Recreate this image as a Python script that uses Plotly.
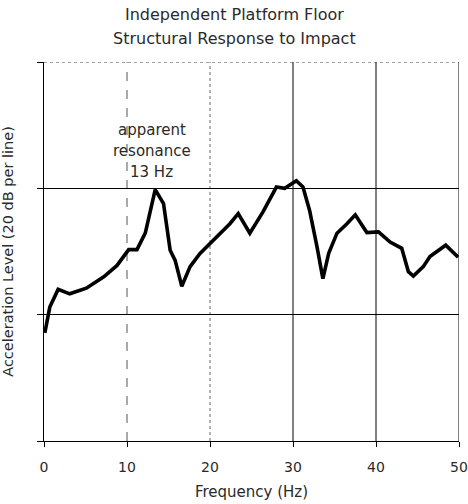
import plotly.graph_objects as go

freq = [0.1, 0.7, 1.7, 3.1, 5.1, 7.2, 8.8, 10.2, 11.2, 12.2, 13.4, 14.4, 15.2, 15.8, 16.6,
        17.6, 18.8, 20.2, 21.6, 22.4, 23.4, 24.8, 26.4, 28.0, 29.0, 30.4, 31.2, 32.0, 32.9,
        33.6, 34.3, 35.3, 36.5, 37.5, 38.9, 40.3, 41.7, 43.1, 43.9, 44.5, 45.7, 46.5, 48.4, 49.9]
level = [17.1, 21.2, 24.0, 23.3, 24.2, 26.0, 27.8, 30.3, 30.3, 32.9, 39.8, 37.6, 30.2, 28.6, 24.5,
         27.6, 29.7, 31.5, 33.4, 34.4, 36.0, 32.9, 36.3, 40.2, 40.0, 41.2, 40.2, 36.5, 30.7,
         25.7, 29.7, 32.9, 34.4, 35.8, 33.0, 33.1, 31.5, 30.5, 26.8, 26.1, 27.6, 29.2, 31.0, 29.1]

x_ticks = [0, 10, 20, 30, 40, 50]
grid_x_styles = {10: ("#555555", "dash"), 20: ("#666666", "dot"), 30: ("#000000", "solid"), 40: ("#000000", "solid")}

title_lines = ["Independent Platform Floor", "Structural Response to Impact"]
note_lines = ["apparent", "resonance", "13 Hz"]

font = "DejaVu Sans, Liberation Sans, Arial, sans-serif"
txt = "#2a2a2a"

fig = go.Figure()
fig.add_trace(go.Scatter(x=freq, y=level, mode="lines",
                         line=dict(color="black", width=3.6), showlegend=False,
                         hoverinfo="skip"))

shapes = []
for xv, (col, dash) in grid_x_styles.items():
    shapes.append(dict(type="line", xref="x", yref="y", x0=xv, x1=xv, y0=0, y1=60,
                       line=dict(color=col, width=1, dash=dash), layer="below"))
shapes.append(dict(type="line", xref="x", yref="y", x0=0, x1=50, y0=60, y1=60,
                   line=dict(color="#444444", width=1, dash="dot")))
shapes.append(dict(type="line", xref="x", yref="y", x0=50, x1=50, y0=0, y1=60,
                   line=dict(color="#000000", width=1)))

annotations = []
for i, t in enumerate(title_lines):
    annotations.append(dict(x=(234 - 44) / 415, y=1 + (62 - 15 - 23 * i) / 379,
                            xref="paper", yref="paper", text=t, showarrow=False,
                            xanchor="center", yanchor="middle",
                            font=dict(family=font, size=16, color=txt)))
for i, t in enumerate(note_lines):
    annotations.append(dict(x=13, y=(441 - (130 + 21 * i)) / 6.317, xref="x", yref="y",
                            text=t, showarrow=False, xanchor="center", yanchor="middle",
                            font=dict(family=font, size=15, color=txt)))

fig.update_layout(
    width=468, height=504,
    margin=dict(l=44, r=9, t=62, b=63),
    paper_bgcolor="white", plot_bgcolor="white",
    font=dict(family=font, color=txt),
    shapes=shapes,
    annotations=annotations,
    xaxis=dict(range=[0, 50], tickvals=x_ticks, ticktext=[str(v) for v in x_ticks],
               showgrid=False, zeroline=False, showline=True, linecolor="black", linewidth=1,
               ticks="outside", ticklen=5, tickcolor="black", automargin=False,
               ticklabelstandoff=8,
               tickfont=dict(family=font, size=14, color=txt),
               title=dict(text="Frequency (Hz)", font=dict(family=font, size=15, color=txt),
                          standoff=12)),
    yaxis=dict(range=[0, 60], tickvals=[0, 20, 40, 60], showticklabels=False,
               showgrid=True, gridcolor="black", gridwidth=1, zeroline=False,
               showline=True, linecolor="black", linewidth=1, automargin=False,
               ticks="outside", ticklen=6, tickcolor="black",
               title=dict(text="Acceleration Level (20 dB per line)",
                          font=dict(family=font, size=14.5, color=txt), standoff=21)),
)

fig.write_html("out.html", config={"displayModeBar": False},
               post_script="document.body.style.margin='0';")
